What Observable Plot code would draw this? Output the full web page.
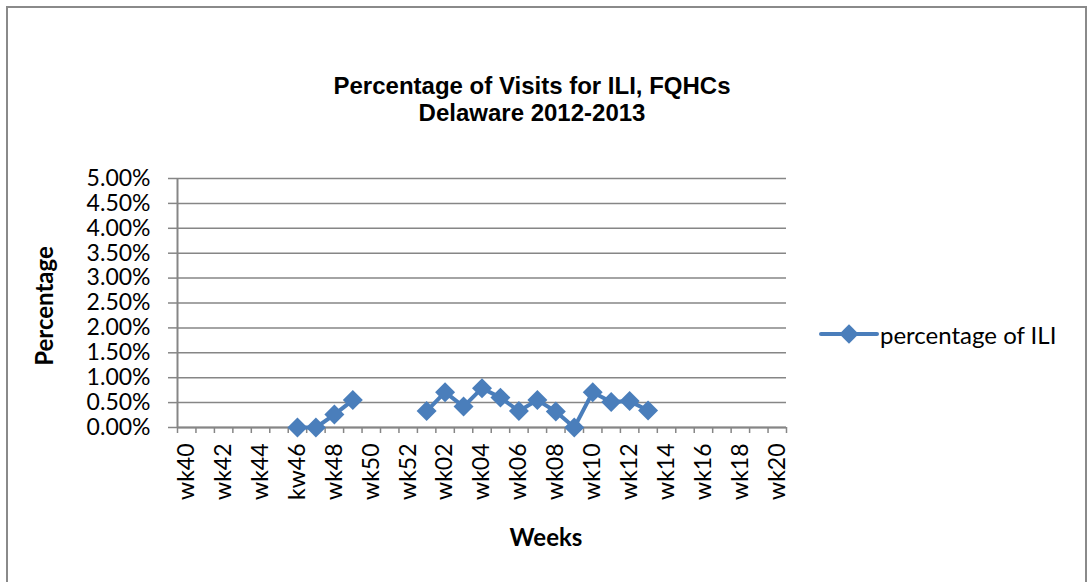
<!DOCTYPE html>
<html>
<head>
<meta charset="utf-8">
<script src="https://cdn.jsdelivr.net/npm/d3@7"></script>
<script src="https://cdn.jsdelivr.net/npm/@observablehq/plot@0.6"></script>
<style>
  html, body { margin: 0; padding: 0; background: #fff; }
  #wrap { position: relative; width: 1090px; height: 582px; overflow: hidden; background: #fff; }
  #border { position: absolute; left: 6px; top: 6px; width: 1081px; height: 640px; border: 2px solid #8a8a8a; box-sizing: border-box; }
  #chart { position: absolute; left: 0; top: 0; }
  .title { position: absolute; left: 180px; width: 704px; text-align: center; font-family: "Liberation Sans", Arial, sans-serif; font-weight: bold; font-size: 24px; color: #000; line-height: 27px; }
  .ytitle { position: absolute; font-family: Lato, "Open Sans", sans-serif; font-weight: bold; font-size: 24px; color: #000; white-space: nowrap; }
  #legend { position: absolute; left: 818px; top: 319px; height: 30px; display: flex; align-items: center; font-family: Lato, sans-serif; font-size: 24px; color: #000; white-space: nowrap; }
</style>
</head>
<body>
<div id="wrap">
  <div id="border"></div>
  <div id="chart"></div>
  <div class="title" style="top:72px">Percentage of Visits for ILI, FQHCs<br>Delaware 2012-2013</div>
  <div class="ytitle" style="left:43px; top:306px; transform: translate(-50%,-50%) rotate(-90deg);">Percentage</div>
  <div class="ytitle" style="left:546px; top:536px; transform: translate(-50%,-50%);">Weeks</div>
  <div id="legend"></div>
</div>
<script>
// Categories (weeks), in order
const weeks = ["wk40","wk41","wk42","wk43","wk44","wk45","wk46","wk47","wk48","wk49","wk50","wk51","wk52",
  "wk01","wk02","wk03","wk04","wk05","wk06","wk07","wk08","wk09","wk10","wk11","wk12","wk13","wk14","wk15",
  "wk16","wk17","wk18","wk19","wk20"];
// Tick labels as printed on the axis (every other week; note "kw46" as in the original)
const tickLabels = ["wk40","","wk42","","wk44","","kw46","","wk48","","wk50","","wk52",
  "","wk02","","wk04","","wk06","","wk08","","wk10","","wk12","","wk14","",
  "wk16","","wk18","","wk20"];
// Percentage of ILI (in %), null = no data
const iliPercent = [null,null,null,null,null,null,0.00,0.00,0.26,0.55,null,null,null,
  0.33,0.71,0.42,0.79,0.60,0.33,0.55,0.32,0.00,0.71,0.51,0.53,0.34,null,null,
  null,null,null,null,null];
const yTicks = [0,0.5,1,1.5,2,2.5,3,3.5,4,4.5,5];
const seriesName = "percentage of ILI";

const blue = "#4A7EBB";
const data = weeks.map((w, i) => ({i, week: w, v: iliPercent[i], label: tickLabels[i]}));
const boundaries = d3.range(weeks.length + 1);
const font = "Lato, 'Open Sans', sans-serif";

const chart = Plot.plot({
  width: 1090,
  height: 582,
  marginLeft: 177,
  marginRight: 304,
  marginTop: 178,
  marginBottom: 155,
  style: {fontFamily: font, background: "transparent"},
  x: {type: "linear", domain: [0, weeks.length], axis: null},
  y: {domain: [0, 5], axis: null},
  marks: [
    Plot.gridY(yTicks, {stroke: "#868686", strokeOpacity: 1, strokeWidth: 1.5}),
    Plot.axisY(yTicks, {tickSize: 9, tickPadding: 18, stroke: "#868686", strokeWidth: 1.5, fill: "#000",
      fontSize: 23, label: null, tickFormat: d => d.toFixed(2) + "%"}),
    Plot.axisX(boundaries, {tickSize: 6, stroke: "#868686", strokeWidth: 1.5, label: null, tickFormat: () => ""}),
    Plot.ruleX([0], {stroke: "#868686", strokeWidth: 2}),
    Plot.ruleY([0], {stroke: "#868686", strokeWidth: 2}),
    Plot.text(data.filter(d => d.label), {x: d => d.i + 0.5, frameAnchor: "bottom", text: "label",
      rotate: -90, textAnchor: "end", lineAnchor: "middle", dy: 16, fontSize: 23, fill: "#000"}),
    Plot.line(data, {x: d => d.i + 0.5, y: "v", stroke: blue, strokeWidth: 4, curve: "linear"}),
    Plot.dot(data.filter(d => d.v != null), {x: d => d.i + 0.5, y: "v", symbol: "diamond2", r: 9,
      fill: blue, stroke: null})
  ]
});
document.getElementById("chart").appendChild(chart);

// Legend
const leg = document.getElementById("legend");
const sw = d3.create("svg").attr("width", 62).attr("height", 30);
sw.append("line").attr("x1", 3).attr("x2", 59).attr("y1", 15).attr("y2", 15)
  .attr("stroke", blue).attr("stroke-width", 4).attr("stroke-linecap", "round");
sw.append("path").attr("d", d3.symbol(d3.symbolDiamond2, 240)()).attr("transform", "translate(31,15)").attr("fill", blue);
leg.appendChild(sw.node());
const lt = document.createElement("span");
lt.textContent = seriesName;
leg.appendChild(lt);
</script>
</body>
</html>
